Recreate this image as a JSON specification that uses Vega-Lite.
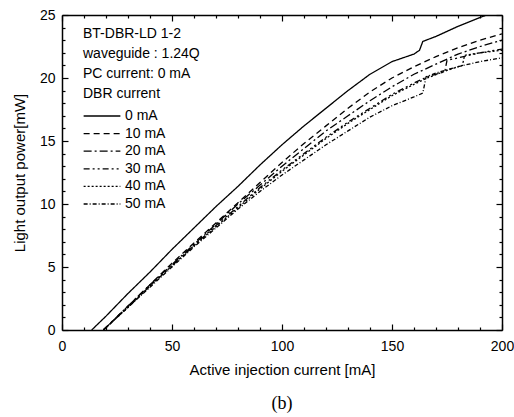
{
  "$schema": "https://vega.github.io/schema/vega-lite/v6.json",
  "autosize": "none",
  "padding": {"left": 62, "top": 15, "right": 12, "bottom": 87},
  "width": 440,
  "height": 315,
  "background": "white",
  "config": {
    "view": {"stroke": null},
    "font": "Liberation Sans",
    "axis": {"grid": false, "domainColor": "black", "domainWidth": 1.5, "tickColor": "black", "tickWidth": 1.2, "labelColor": "black", "titleColor": "black", "labelFont": "Liberation Sans", "titleFont": "Liberation Sans", "labelFontSize": 14, "titleFontSize": 15, "titleFontWeight": "normal"}
  },
  "title": {"text": "(b)", "orient": "bottom", "font": "Liberation Serif", "fontSize": 18, "fontWeight": "normal", "color": "black", "offset": 18},
  "datasets": {
    "curves": [
      {"c":"0 mA","x":13.5,"y":0},{"c":"0 mA","x":20,"y":1.1},{"c":"0 mA","x":30,"y":2.9},{"c":"0 mA","x":40,"y":4.6},{"c":"0 mA","x":50,"y":6.4},{"c":"0 mA","x":60,"y":8.1},{"c":"0 mA","x":70,"y":9.8},{"c":"0 mA","x":80,"y":11.4},{"c":"0 mA","x":90,"y":13.1},{"c":"0 mA","x":100,"y":14.7},{"c":"0 mA","x":110,"y":16.2},{"c":"0 mA","x":120,"y":17.6},{"c":"0 mA","x":130,"y":19.0},{"c":"0 mA","x":140,"y":20.3},{"c":"0 mA","x":150,"y":21.3},{"c":"0 mA","x":160,"y":21.9},{"c":"0 mA","x":162.5,"y":22.2},{"c":"0 mA","x":164,"y":22.9},{"c":"0 mA","x":170,"y":23.3},{"c":"0 mA","x":180,"y":24.1},{"c":"0 mA","x":190,"y":24.8},{"c":"0 mA","x":193,"y":25.0},
      {"c":"10 mA","x":18.8,"y":0},{"c":"10 mA","x":30,"y":1.9},{"c":"10 mA","x":40,"y":3.6},{"c":"10 mA","x":50,"y":5.3},{"c":"10 mA","x":60,"y":6.9},{"c":"10 mA","x":70,"y":8.5},{"c":"10 mA","x":80,"y":10.1},{"c":"10 mA","x":90,"y":11.7},{"c":"10 mA","x":100,"y":13.3},{"c":"10 mA","x":110,"y":14.8},{"c":"10 mA","x":120,"y":16.2},{"c":"10 mA","x":130,"y":17.6},{"c":"10 mA","x":140,"y":18.9},{"c":"10 mA","x":150,"y":20.0},{"c":"10 mA","x":160,"y":20.9},{"c":"10 mA","x":170,"y":21.7},{"c":"10 mA","x":180,"y":22.4},{"c":"10 mA","x":190,"y":23.0},{"c":"10 mA","x":200,"y":23.5},
      {"c":"20 mA","x":18.8,"y":0},{"c":"20 mA","x":30,"y":1.9},{"c":"20 mA","x":40,"y":3.6},{"c":"20 mA","x":50,"y":5.2},{"c":"20 mA","x":60,"y":6.8},{"c":"20 mA","x":70,"y":8.4},{"c":"20 mA","x":80,"y":10.0},{"c":"20 mA","x":90,"y":11.5},{"c":"20 mA","x":100,"y":13.0},{"c":"20 mA","x":110,"y":14.4},{"c":"20 mA","x":120,"y":15.8},{"c":"20 mA","x":130,"y":17.0},{"c":"20 mA","x":140,"y":18.2},{"c":"20 mA","x":150,"y":19.3},{"c":"20 mA","x":160,"y":20.3},{"c":"20 mA","x":170,"y":21.1},{"c":"20 mA","x":180,"y":21.9},{"c":"20 mA","x":190,"y":22.5},{"c":"20 mA","x":200,"y":23.0},
      {"c":"30 mA","x":18.8,"y":0},{"c":"30 mA","x":30,"y":1.8},{"c":"30 mA","x":40,"y":3.5},{"c":"30 mA","x":50,"y":5.1},{"c":"30 mA","x":60,"y":6.7},{"c":"30 mA","x":70,"y":8.3},{"c":"30 mA","x":80,"y":9.8},{"c":"30 mA","x":90,"y":11.3},{"c":"30 mA","x":100,"y":12.7},{"c":"30 mA","x":110,"y":14.0},{"c":"30 mA","x":120,"y":15.3},{"c":"30 mA","x":130,"y":16.5},{"c":"30 mA","x":140,"y":17.6},{"c":"30 mA","x":150,"y":18.7},{"c":"30 mA","x":160,"y":19.6},{"c":"30 mA","x":166,"y":20.1},{"c":"30 mA","x":174,"y":20.5},{"c":"30 mA","x":175,"y":21.4},{"c":"30 mA","x":180,"y":21.6},{"c":"30 mA","x":190,"y":22.0},{"c":"30 mA","x":200,"y":22.3},
      {"c":"40 mA","x":18.8,"y":0},{"c":"40 mA","x":30,"y":1.8},{"c":"40 mA","x":40,"y":3.5},{"c":"40 mA","x":50,"y":5.1},{"c":"40 mA","x":60,"y":6.7},{"c":"40 mA","x":70,"y":8.2},{"c":"40 mA","x":80,"y":9.7},{"c":"40 mA","x":90,"y":11.2},{"c":"40 mA","x":100,"y":12.6},{"c":"40 mA","x":110,"y":13.9},{"c":"40 mA","x":120,"y":15.2},{"c":"40 mA","x":130,"y":16.4},{"c":"40 mA","x":140,"y":17.5},{"c":"40 mA","x":150,"y":18.6},{"c":"40 mA","x":160,"y":19.5},{"c":"40 mA","x":166,"y":20.0},{"c":"40 mA","x":175,"y":20.6},{"c":"40 mA","x":182,"y":21.0},{"c":"40 mA","x":183,"y":21.8},{"c":"40 mA","x":190,"y":22.0},{"c":"40 mA","x":200,"y":22.2},
      {"c":"50 mA","x":18.8,"y":0},{"c":"50 mA","x":30,"y":1.8},{"c":"50 mA","x":40,"y":3.4},{"c":"50 mA","x":50,"y":5.0},{"c":"50 mA","x":60,"y":6.6},{"c":"50 mA","x":70,"y":8.1},{"c":"50 mA","x":80,"y":9.6},{"c":"50 mA","x":90,"y":11.0},{"c":"50 mA","x":100,"y":12.3},{"c":"50 mA","x":110,"y":13.5},{"c":"50 mA","x":120,"y":14.7},{"c":"50 mA","x":130,"y":15.8},{"c":"50 mA","x":140,"y":16.9},{"c":"50 mA","x":150,"y":17.8},{"c":"50 mA","x":160,"y":18.5},{"c":"50 mA","x":164,"y":18.8},{"c":"50 mA","x":165.5,"y":20.1},{"c":"50 mA","x":170,"y":20.4},{"c":"50 mA","x":180,"y":20.9},{"c":"50 mA","x":190,"y":21.3},{"c":"50 mA","x":200,"y":21.6}
    ]
  },
  "data": {"name": "curves"},
  "resolve": {"axis": {"x": "independent", "y": "independent"}},
  "layer": [
    {
      "mark": {"type": "line", "color": "black", "strokeWidth": 1.3, "clip": true},
      "encoding": {
        "x": {"field": "x", "type": "quantitative", "scale": {"domain": [0, 200], "nice": false},
          "axis": {"orient": "bottom", "values": [0,10,20,30,40,50,60,70,80,90,100,110,120,130,140,150,160,170,180,190,200],
            "labelExpr": "datum.value % 50 === 0 ? datum.label : ''",
            "tickSize": {"condition": {"test": "datum.value % 50 === 0", "value": -6}, "value": -3},
            "labelPadding": 15, "labelFlush": false, "title": "Active injection current [mA]", "titlePadding": 9}},
        "y": {"field": "y", "type": "quantitative", "scale": {"domain": [0, 25], "nice": false},
          "axis": {"orient": "left", "values": [0,1,2,3,4,5,6,7,8,9,10,11,12,13,14,15,16,17,18,19,20,21,22,23,24,25],
            "labelExpr": "datum.value % 5 === 0 ? datum.label : ''",
            "tickSize": {"condition": {"test": "datum.value % 5 === 0", "value": -6}, "value": -3},
            "labelPadding": 13, "labelFlush": false, "title": "Light output power[mW]", "titlePadding": 12}},
        "strokeDash": {"field": "c", "type": "nominal",
          "scale": {"domain": ["0 mA","10 mA","20 mA","30 mA","40 mA","50 mA"],
            "range": [[1,0],[6,4],[8,3,2,3],[6,3,2,3,2,3],[2,2],[4,2,1,2]]},
          "legend": {"orient": "none", "legendX": 21, "legendY": 12, "padding": 0,
            "title": ["BT-DBR-LD 1-2", "waveguide : 1.24Q", "PC current: 0 mA", "DBR current"],
            "titleFont": "Liberation Sans", "titleFontSize": 14, "titleFontWeight": "normal", "titleColor": "black", "titleLineHeight": 20, "titlePadding": 8,
            "labelFont": "Liberation Sans", "labelFontSize": 14, "labelColor": "black", "labelOffset": 16,
            "symbolType": "M-3,0H3", "symbolSize": 150, "symbolOffset": 12, "symbolStrokeColor": "black", "symbolStrokeWidth": 1.3, "symbolFillColor": "transparent",
            "rowPadding": 3.6}}
      }
    },
    {
      "mark": {"type": "line", "opacity": 0},
      "encoding": {
        "x": {"field": "x", "type": "quantitative",
          "axis": {"orient": "top", "values": [0,10,20,30,40,50,60,70,80,90,100,110,120,130,140,150,160,170,180,190,200],
            "labels": false, "title": null,
            "tickSize": {"condition": {"test": "datum.value % 50 === 0", "value": -6}, "value": -3}}},
        "y": {"field": "y", "type": "quantitative",
          "axis": {"orient": "right", "values": [0,1,2,3,4,5,6,7,8,9,10,11,12,13,14,15,16,17,18,19,20,21,22,23,24,25],
            "labels": false, "title": null,
            "tickSize": {"condition": {"test": "datum.value % 5 === 0", "value": -6}, "value": -3}}},
        "detail": {"field": "c"}
      }
    }
  ]
}
